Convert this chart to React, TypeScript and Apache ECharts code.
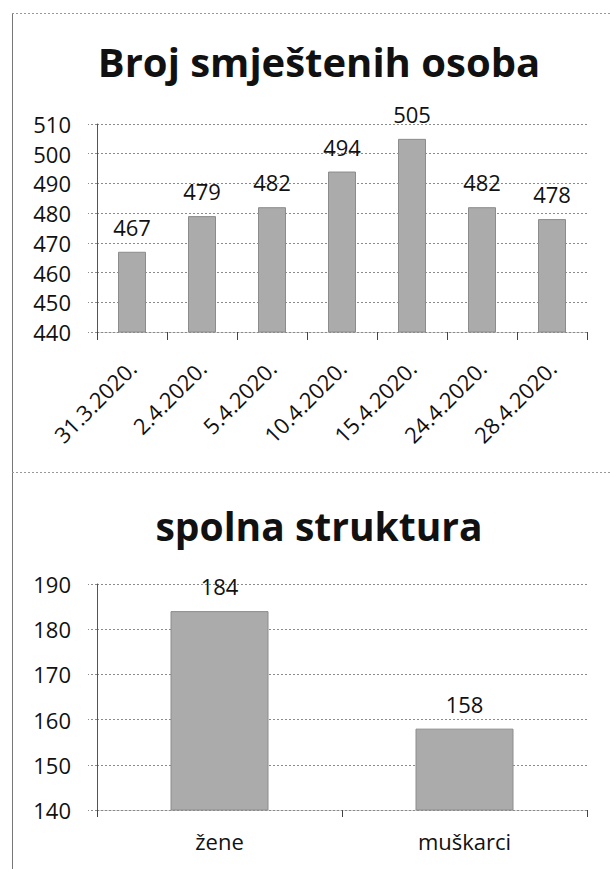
import React, { useEffect, useRef } from "react";
import * as echarts from "echarts";

const dateCategories = ["31.3.2020.", "2.4.2020.", "5.4.2020.", "10.4.2020.", "15.4.2020.", "24.4.2020.", "28.4.2020."];
const personCounts = [467, 479, 482, 494, 505, 482, 478];
const genderCategories = ["žene", "muškarci"];
const genderCounts = [184, 158];

const FONT = "Open Sans";
const TEXT = "#111111";
const GRID_LINE = { color: "#8a8a8a", width: 1, type: [2, 2] as any };
const BAR_STYLE = { color: "#ababab", borderColor: "#8c8c8c", borderWidth: 1 };

export default function App() {
  const ref = useRef<HTMLDivElement>(null);
  useEffect(() => {
    if (!ref.current) return;
    const chart = echarts.init(ref.current, undefined, { renderer: "svg" });
    const yAxisCommon = (min: number, max: number) => ({
      type: "value",
      min,
      max,
      interval: 10,
      axisLine: { show: true, lineStyle: { color: "#555", width: 1 } },
      axisTick: { show: true, inside: false, length: 9, lineStyle: GRID_LINE },
      splitLine: { show: true, lineStyle: GRID_LINE },
      axisLabel: { color: TEXT, fontFamily: FONT, fontSize: 22, margin: 26 },
    });
    chart.setOption({
      animation: false,
      backgroundColor: "#ffffff",
      title: [
        {
          text: "Broj smještenih osoba",
          left: 314,
          textAlign: "center",
          top: 36,
          textStyle: { fontFamily: FONT, fontWeight: "bold", fontSize: 40, color: TEXT },
        },
        {
          text: "spolna struktura",
          left: 314,
          textAlign: "center",
          top: 501,
          textStyle: { fontFamily: FONT, fontWeight: "bold", fontSize: 39, color: TEXT },
        },
      ],
      grid: [
        { left: 97, right: 23, top: 124, height: 208 },
        { left: 97, right: 23, top: 584, height: 226 },
      ],
      xAxis: [
        {
          type: "category",
          gridIndex: 0,
          data: dateCategories,
          axisLine: { show: true, lineStyle: GRID_LINE },
          axisTick: { show: true, length: 8, alignWithLabel: false, lineStyle: { color: "#444", width: 1 } },
          axisLabel: { color: TEXT, fontFamily: FONT, fontSize: 22, rotate: 45, margin: 32, interval: 0 },
        },
        {
          type: "category",
          gridIndex: 1,
          data: genderCategories,
          axisLine: { show: true, lineStyle: GRID_LINE },
          axisTick: { show: true, length: 7, alignWithLabel: false, lineStyle: { color: "#444", width: 1 } },
          axisLabel: { color: TEXT, fontFamily: FONT, fontSize: 22, margin: 20, interval: 0 },
        },
      ],
      yAxis: [
        { ...yAxisCommon(440, 510), gridIndex: 0 },
        { ...yAxisCommon(140, 190), gridIndex: 1 },
      ],
      series: [
        {
          type: "bar",
          xAxisIndex: 0,
          yAxisIndex: 0,
          data: personCounts,
          barWidth: "40%",
          itemStyle: BAR_STYLE,
          label: { show: true, position: "top", distance: 14, color: TEXT, fontFamily: FONT, fontSize: 22 },
        },
        {
          type: "bar",
          xAxisIndex: 1,
          yAxisIndex: 1,
          data: genderCounts,
          barWidth: "40%",
          itemStyle: BAR_STYLE,
          label: { show: true, position: "top", distance: 14, color: TEXT, fontFamily: FONT, fontSize: 22 },
        },
      ],
      graphic: [
        { type: "line", shape: { x1: 12.5, y1: 13, x2: 12.5, y2: 869 }, style: { stroke: "#777", lineWidth: 1 } },
        { type: "line", shape: { x1: 12, y1: 13.5, x2: 610, y2: 13.5 }, style: { stroke: "#999", lineWidth: 1, lineDash: [2, 2] } },
        { type: "line", shape: { x1: 12, y1: 472.5, x2: 610, y2: 472.5 }, style: { stroke: "#999", lineWidth: 1, lineDash: [2, 2] } },
      ],
    });
    return () => chart.dispose();
  }, []);
  return <div ref={ref} style={{ position: "fixed", left: 0, top: 0, width: 610, height: 869 }} />;
}
